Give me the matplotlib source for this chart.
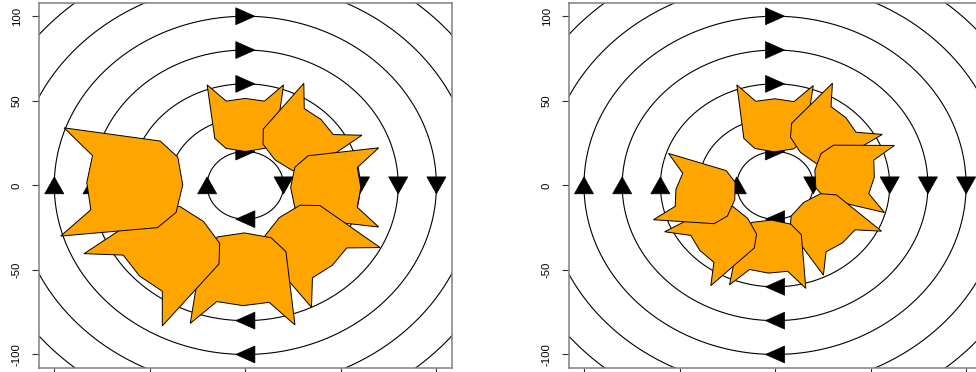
import numpy as np
import matplotlib
matplotlib.use("Agg")
import matplotlib.pyplot as plt
from matplotlib.patches import Polygon

plt.rcParams["font.family"] = ["Liberation Sans", "DejaVu Sans"]
plt.rcParams["axes.unicode_minus"] = False

# ---- data ----
ring_radii = [20, 40, 60, 80, 100, 120, 140]
arrow_radii = [20, 40, 60, 80, 100]
arrow_sides = [90, 0, -90, 180]          # top, right, bottom, left of each ring
axis_ticks = [-100, -50, 0, 50, 100]
axis_limits = [-108, 108]

# cat-head outline (ears up, origin midway between ear tips), unit size
cat_x = [20, 16, 10.2, 0, -10.2, -16, -20, -10, 0, 10]
cat_y = [0, -31.6, -37.5, -39.4, -37.5, -31.6, 0, -9.6, -8.0, -9.6]

# left panel: growing cats
left_pos_angle = [90, 44.5, -1, -46, -91, -136, 178.8]
left_pos_radius = [59.4, 64.2, 69.8, 75.7, 82.1, 88.9, 95.8]
left_heading = [90, 44.7, 0, -45.5, -91, -136.2, 178.4]
left_size = [1.0, 1.08, 1.17, 1.26, 1.37, 1.48, 1.6]

# right panel: equal cats
right_pos_angle = [90, 46.4, 3.6, -44.7, -93.7, -136.5, 180.7]
right_pos_radius = [59.2, 62.5, 60.0, 57.0, 60.0, 63.0, 59.7]
right_heading = [89.4, 40.8, -7.5, -49.5, -93.0, -142.8, 168.6]
right_size = [1.0, 1.0, 1.0, 1.0, 1.0, 1.0, 1.0]

CAT_FILL = "#FFA500"


def draw_panel(ax, pos_angle, pos_radius, heading, size):
    t = np.linspace(0, 2 * np.pi, 721)
    for r in ring_radii:
        ax.plot(r * np.cos(t), r * np.sin(t), color="black", lw=0.8, zorder=1)

    tri = np.array([[5.0, 0.0], [-5.0, 5.0], [-5.0, -5.0]])
    for r in arrow_radii:
        for side in arrow_sides:
            a = np.deg2rad(side)
            d = np.deg2rad(side - 90)
            rot = np.array([[np.cos(d), -np.sin(d)], [np.sin(d), np.cos(d)]])
            pts = tri @ rot.T + [r * np.cos(a), r * np.sin(a)]
            ax.add_patch(Polygon(pts, closed=True, facecolor="black",
                                 edgecolor="black", lw=0.5, zorder=2))

    tmpl = np.column_stack([cat_x, cat_y])
    for i, (pa, pr, hd, s) in enumerate(zip(pos_angle, pos_radius, heading, size)):
        a = np.deg2rad(pa)
        d = np.deg2rad(hd - 90)
        rot = np.array([[np.cos(d), -np.sin(d)], [np.sin(d), np.cos(d)]])
        pts = s * (tmpl @ rot.T) + [pr * np.cos(a), pr * np.sin(a)]
        ax.add_patch(Polygon(pts, closed=True, facecolor=CAT_FILL,
                             edgecolor="black", lw=0.7, zorder=3 + i))

    ax.set_xlim(axis_limits)
    ax.set_ylim(axis_limits)
    ax.set_xticks(axis_ticks)
    ax.set_xticklabels([])   # x labels fall below the visible picture
    ax.set_yticks(axis_ticks)
    ax.set_yticklabels([str(v) for v in axis_ticks], rotation=90, va="center")
    ax.tick_params(axis="both", length=5.3, width=0.8, color="#333333",
                   labelsize=8.2, pad=7, direction="out")
    for sp in ax.spines.values():
        sp.set_color("#808080")
        sp.set_linewidth(1.1)


fig = plt.figure(figsize=(9.76, 3.72), dpi=100)
W, H = 976.0, 372.0
ax1 = fig.add_axes([39 / W, 4 / H, 412.7 / W, 365.3 / H])
ax2 = fig.add_axes([568.7 / W, 4 / H, 412.7 / W, 365.3 / H])

draw_panel(ax1, left_pos_angle, left_pos_radius, left_heading, left_size)
draw_panel(ax2, right_pos_angle, right_pos_radius, right_heading, right_size)

fig.savefig("out.png", dpi=100)
